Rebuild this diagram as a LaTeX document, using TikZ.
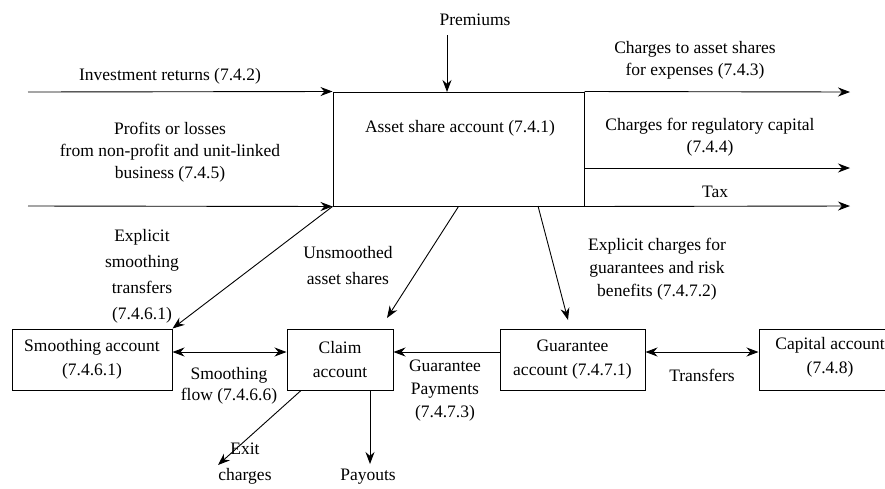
\documentclass[tikz,border=0pt]{standalone}
\usepackage{fontspec}
\setmainfont{Liberation Serif}
\usetikzlibrary{arrows.meta}

\tikzset{
  acct/.style={draw, line width=1pt, inner sep=0pt, align=center,
               font=\fontsize{17.5}{24}\selectfont},
  flow/.style={line width=0.9pt, -{Stealth[length=12pt,width=9pt]}},
  twoway/.style={line width=0.9pt,
                 {Stealth[length=12pt,width=9pt]}-{Stealth[length=12pt,width=9pt]}},
  lbl/.style={align=center, inner sep=0pt},
}

\begin{document}
\begin{tikzpicture}[x=1pt,y=-1pt,font=\fontsize{17.5}{22}\selectfont]
\useasboundingbox (0,0) rectangle (885,488);

% accounts
\node[acct, minimum width=251pt, minimum height=114pt] (asset) at (458.5,149) {};
\node[lbl] (assettxt) at (460,128) {Asset share account (7.4.1)};
\node[acct, minimum width=160pt, minimum height=61pt] (smooth) at (92,359.5)
  {Smoothing account\\(7.4.6.1)};
\node[acct, minimum width=106pt, minimum height=61pt] (claim) at (340,359.5)
  {Claim\\account};
\node[acct, minimum width=145pt, minimum height=61pt] (guar) at (572.5,359.5)
  {Guarantee\\account (7.4.7.1)};
\node[acct, minimum width=130pt, minimum height=61pt] (cap) at (824,359.5) {};
\node[lbl, font=\fontsize{17.5}{24}\selectfont] (captxt) at (830,357)
  {Capital account\\(7.4.8)};

% free ends
\coordinate (inv) at (28,92);
\coordinate (prof) at (28,206);
\coordinate (premtop) at (447,35);
\coordinate (premin) at (447,92);
\coordinate (exp) at (850,92);
\coordinate (reg) at (850,168);
\coordinate (tax) at (850,206);
\coordinate (unsm) at (387,318);
\coordinate (gstart) at (538,206);
\coordinate (gend) at (568,320);
\coordinate (exit) at (218,465);
\coordinate (pay) at (370,464);

% flows into the asset share account
\draw[flow] (inv) -- (asset.north west);
\draw[flow] (prof) -- (asset.south west);
\draw[flow] (premtop) -- (premin);

% flows out of it
\draw[flow] (asset.north east) -- (exp);
\draw[flow] (asset.east |- reg) -- (reg);
\draw[flow] (asset.south east) -- (tax);
\draw[flow] (asset.south west) -- (smooth.north east);
\draw[flow] (asset.south) -- (unsm);
\draw[flow] (gstart) -- (gend);

% between accounts
\draw[twoway] ([yshift=7.5pt]smooth.east) -- ([yshift=7.5pt]claim.west);
\draw[flow] ([yshift=7.5pt]guar.west) -- ([yshift=7.5pt]claim.east);
\draw[twoway] ([yshift=7.5pt]guar.east) -- ([yshift=7.5pt]cap.west);
\draw[flow] ([xshift=-39pt]claim.south) -- (exit);
\draw[flow] (claim.south -| pay) -- (pay);

% labels
\node[lbl] (premlbl) at (475,20) {Premiums};
\node[lbl] (invlbl) at (170,76) {Investment returns (7.4.2)};
\node[lbl] (proflbl) at (170,152) {Profits or losses\\from non-profit and unit-linked\\business (7.4.5)};
\node[lbl] (explbl) at (695,60) {Charges to asset shares\\for expenses (7.4.3)};
\node[lbl] (reglbl) at (710,137) {Charges for regulatory capital\\(7.4.4)};
\node[lbl] (taxlbl) at (715,192) {Tax};
\node[lbl, font=\fontsize{17.5}{26}\selectfont] (esmlbl) at (142,276)
  {Explicit\\smoothing\\transfers\\(7.4.6.1)};
\node[lbl, font=\fontsize{17.5}{26}\selectfont] (unsmlbl) at (348,266)
  {Unsmoothed\\asset shares};
\node[lbl, font=\fontsize{17.5}{23}\selectfont] (eclbl) at (657,269)
  {Explicit charges for\\guarantees and risk\\benefits (7.4.7.2)};
\node[lbl, font=\fontsize{17.5}{21}\selectfont] (sflbl) at (229,386)
  {Smoothing\\flow (7.4.6.6)};
\node[lbl, font=\fontsize{17.5}{23}\selectfont] (gplbl) at (445,391)
  {Guarantee\\Payments\\(7.4.7.3)};
\node[lbl] (trlbl) at (702,375) {Transfers};
\node[lbl, font=\fontsize{17.5}{26}\selectfont] (exitlbl) at (245,464)
  {Exit\\charges};
\node[lbl] (paylbl) at (368,477) {Payouts};

\end{tikzpicture}
\end{document}
